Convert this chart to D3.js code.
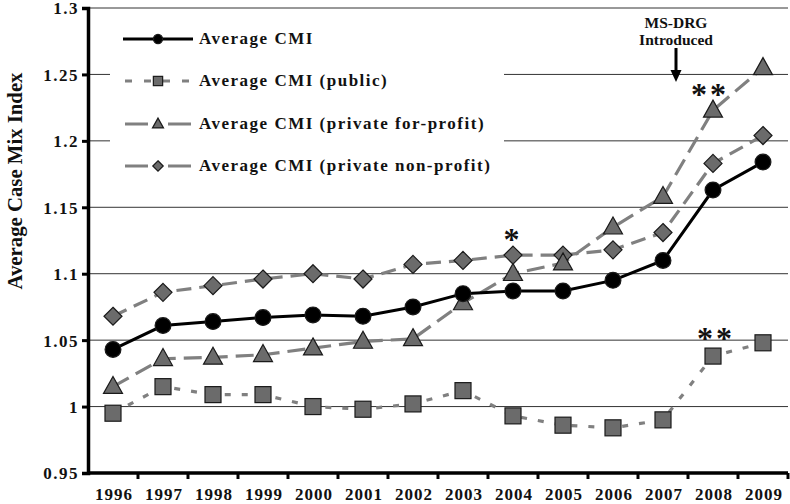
<!DOCTYPE html>
<html>
	<head>
		<meta charset="utf-8">
		<title>Average CMI</title>
		<script src="https://d3js.org/d3.v7.min.js"></script>
		<style type="text/css">
			body {margin: 0; background: #fff;}
			text {font-family: 'Liberation Serif', 'Times New Roman', serif; font-weight: bold; fill: #111;}
			.tick text {font-size: 17px; letter-spacing: 1.5px;}
			.legend text {font-size: 17px; letter-spacing: 1.5px;}
		</style>
	</head>
	<body>
		<svg width=790 height=504></svg>
	</body>
	<script type="text/javascript">
		var years = ["1996","1997","1998","1999","2000","2001","2002","2003","2004","2005","2006","2007","2008","2009"];
		var yTicks = [0.95, 1, 1.05, 1.1, 1.15, 1.2, 1.25, 1.3];

		var cmiAll       = [1.043, 1.061, 1.064, 1.067, 1.069, 1.068, 1.075, 1.085, 1.087, 1.087, 1.095, 1.110, 1.163, 1.184];
		var cmiPublic    = [0.995, 1.015, 1.009, 1.009, 1.000, 0.998, 1.002, 1.012, 0.993, 0.986, 0.984, 0.990, 1.038, 1.048];
		var cmiForProfit = [1.015, 1.036, 1.037, 1.039, 1.044, 1.049, 1.051, 1.078, 1.100, 1.108, 1.135, 1.158, 1.223, 1.255];
		var cmiNonProfit = [1.068, 1.086, 1.091, 1.096, 1.100, 1.096, 1.107, 1.110, 1.114, 1.114, 1.118, 1.131, 1.183, 1.204];

		var seriesNames = ["Average CMI", "Average CMI (public)", "Average CMI (private for-profit)", "Average CMI (private non-profit)"];

		var series = [
			{name: seriesNames[0], values: cmiAll, color: "#000", dash: null, shape: "circle"},
			{name: seriesNames[1], values: cmiPublic, color: "#808080", dash: "6,11", shape: "square"},
			{name: seriesNames[2], values: cmiForProfit, color: "#808080", dash: "18,8", shape: "triangle"},
			{name: seriesNames[3], values: cmiNonProfit, color: "#808080", dash: "15,8", shape: "diamond"}
		];

		// marker builders: big for the plot, small for the legend
		function marker(sel, shape, scale) {
			var fill = shape === "circle" ? "#000" : "#6b6b6b";
			if (shape === "circle") {
				sel.append("circle").attr("r", 7.9 * scale);
			} else if (shape === "square") {
				var s = 16 * scale;
				sel.append("rect").attr("x", -s / 2).attr("y", -s / 2).attr("width", s).attr("height", s);
			} else if (shape === "triangle") {
				var w = 19 * scale, h = 17 * scale;
				sel.append("path").attr("d", "M0," + (-h * 0.6) + "L" + (w / 2) + "," + (h * 0.4) + "L" + (-w / 2) + "," + (h * 0.4) + "Z");
			} else {
				var r = 9 * scale;
				sel.append("path").attr("d", "M0," + (-r) + "L" + r + ",0L0," + r + "L" + (-r) + ",0Z");
			}
			sel.selectAll("*").attr("fill", fill).attr("stroke", "#1a1a1a").attr("stroke-width", 1.2);
		}

		var svg = d3.select("svg"),
		    margin = {top: 8, right: 2, bottom: 31, left: 88},
		    width = +svg.attr("width") - margin.left - margin.right,
		    height = +svg.attr("height") - margin.top - margin.bottom,
		    g = svg.append("g").attr("transform", "translate(" + margin.left + "," + margin.top + ")");

		var x = d3.scaleBand().domain(years).range([0, width]);
		var y = d3.scaleLinear().domain([0.95, 1.3]).range([height, 0]);

		// gridlines
		g.append("g").selectAll("line")
		  .data(yTicks.slice(1))
		  .enter().append("line")
		    .attr("x1", 0).attr("x2", width)
		    .attr("y1", function(d) { return y(d); })
		    .attr("y2", function(d) { return y(d); })
		    .attr("stroke", "#333").attr("stroke-width", 1);

		// legend background hides gridlines behind it
		var legend = g.append("g").attr("class", "legend");
		legend.append("rect")
		    .attr("x", 22).attr("y", 8).attr("width", 394).attr("height", 180)
		    .attr("fill", "#fff");

		// y axis
		var yAxis = g.append("g")
		    .call(d3.axisLeft(y).tickValues(yTicks).tickSize(6).tickPadding(3)
		      .tickFormat(function(d) { return String(+d.toFixed(2)); }));
		yAxis.select(".domain").attr("stroke", "#000").attr("stroke-width", 3.5);
		yAxis.selectAll(".tick line").attr("stroke", "#000").attr("stroke-width", 3);
		yAxis.selectAll(".tick text").attr("dy", "0.35em");

		// x axis with ticks at band edges
		var xAxis = g.append("g").attr("class", "tick").attr("transform", "translate(0," + height + ")");
		xAxis.append("line").attr("x1", 0).attr("x2", width).attr("stroke", "#000").attr("stroke-width", 3.5);
		xAxis.selectAll(".edge")
		  .data(years)
		  .enter().append("line")
		    .attr("x1", function(d) { return x(d) + x.bandwidth(); })
		    .attr("x2", function(d) { return x(d) + x.bandwidth(); })
		    .attr("y1", 0).attr("y2", 6)
		    .attr("stroke", "#000").attr("stroke-width", 3);
		xAxis.selectAll("text")
		  .data(years)
		  .enter().append("text")
		    .attr("x", function(d) { return x(d) + x.bandwidth() / 2 + 1; })
		    .attr("y", 27)
		    .attr("text-anchor", "middle")
		    .style("letter-spacing", "1px")
		    .text(function(d) { return d; });

		// y title
		svg.append("text")
		    .attr("transform", "translate(22,181) rotate(-90)")
		    .attr("text-anchor", "middle")
		    .attr("textLength", 217)
		    .attr("lengthAdjust", "spacingAndGlyphs")
		    .style("font-size", "21px")
		    .text("Average Case Mix Index");

		var cx = function(d, i) { return x(years[i]) + x.bandwidth() / 2; };
		var line = d3.line().x(cx).y(function(d) { return y(d); });

		var plot = g.append("g");
		series.slice().reverse().forEach(function(s) {
			var path = plot.append("path")
			    .attr("d", line(s.values))
			    .attr("fill", "none")
			    .attr("stroke", s.color)
			    .attr("stroke-width", s.dash ? 3.2 : 3);
			if (s.dash) path.attr("stroke-dasharray", s.dash);
		});
		series.slice().reverse().forEach(function(s) {
			plot.selectAll(null)
			  .data(s.values)
			  .enter().append("g")
			    .attr("transform", function(d, i) { return "translate(" + cx(d, i) + "," + y(d) + ")"; })
			    .each(function() { marker(d3.select(this), s.shape, 1); });
		});

		// legend entries
		var rowY = [31, 73, 116, 158];
		var legendDash = [null, "7,12", "23,20", "23,20"];
		series.forEach(function(s, i) {
			var row = legend.append("g").attr("transform", "translate(0," + rowY[i] + ")");
			var l = row.append("line")
			    .attr("x1", i === 0 ? 35 : 37).attr("x2", 105)
			    .attr("stroke", s.color).attr("stroke-width", 3);
			if (legendDash[i]) l.attr("stroke-dasharray", legendDash[i]);
			var m = row.append("g").attr("transform", "translate(70,0)");
			marker(m, s.shape, 0.58);
			row.append("text")
			    .attr("x", 111).attr("y", 5)
			    .text(s.name);
		});

		// annotations
		var note = g.append("g");
		var xDrg = x("2007") + x.bandwidth() * 0.76;
		note.append("text").attr("x", xDrg).attr("y", 20).attr("text-anchor", "middle")
		    .style("font-size", "15.5px").text("MS-DRG");
		note.append("text").attr("x", xDrg).attr("y", 37).attr("text-anchor", "middle")
		    .style("font-size", "15.5px").text("Introduced");
		note.append("line").attr("x1", xDrg).attr("x2", xDrg).attr("y1", 40).attr("y2", 64)
		    .attr("stroke", "#000").attr("stroke-width", 3);
		note.append("path")
		    .attr("d", "M" + (xDrg - 5.5) + ",62 L" + (xDrg + 5.5) + ",62 L" + xDrg + ",74 Z")
		    .attr("fill", "#000");

		var stars = [
			{year: "2004", value: cmiNonProfit[8], text: "*", off: 5, dx: 0},
			{year: "2008", value: cmiForProfit[12], text: "**", off: 5, dx: -3},
			{year: "2008", value: cmiPublic[12], text: "**", off: 7, dx: 3}
		];
		note.selectAll(".star")
		  .data(stars)
		  .enter().append("text")
		    .attr("x", function(d) { return x(d.year) + x.bandwidth() / 2 + d.dx; })
		    .attr("y", function(d) { return y(d.value) - d.off; })
		    .attr("text-anchor", "middle")
		    .style("font-size", "32px")
		    .style("letter-spacing", "3px")
		    .text(function(d) { return d.text; });
	</script>
</html>
